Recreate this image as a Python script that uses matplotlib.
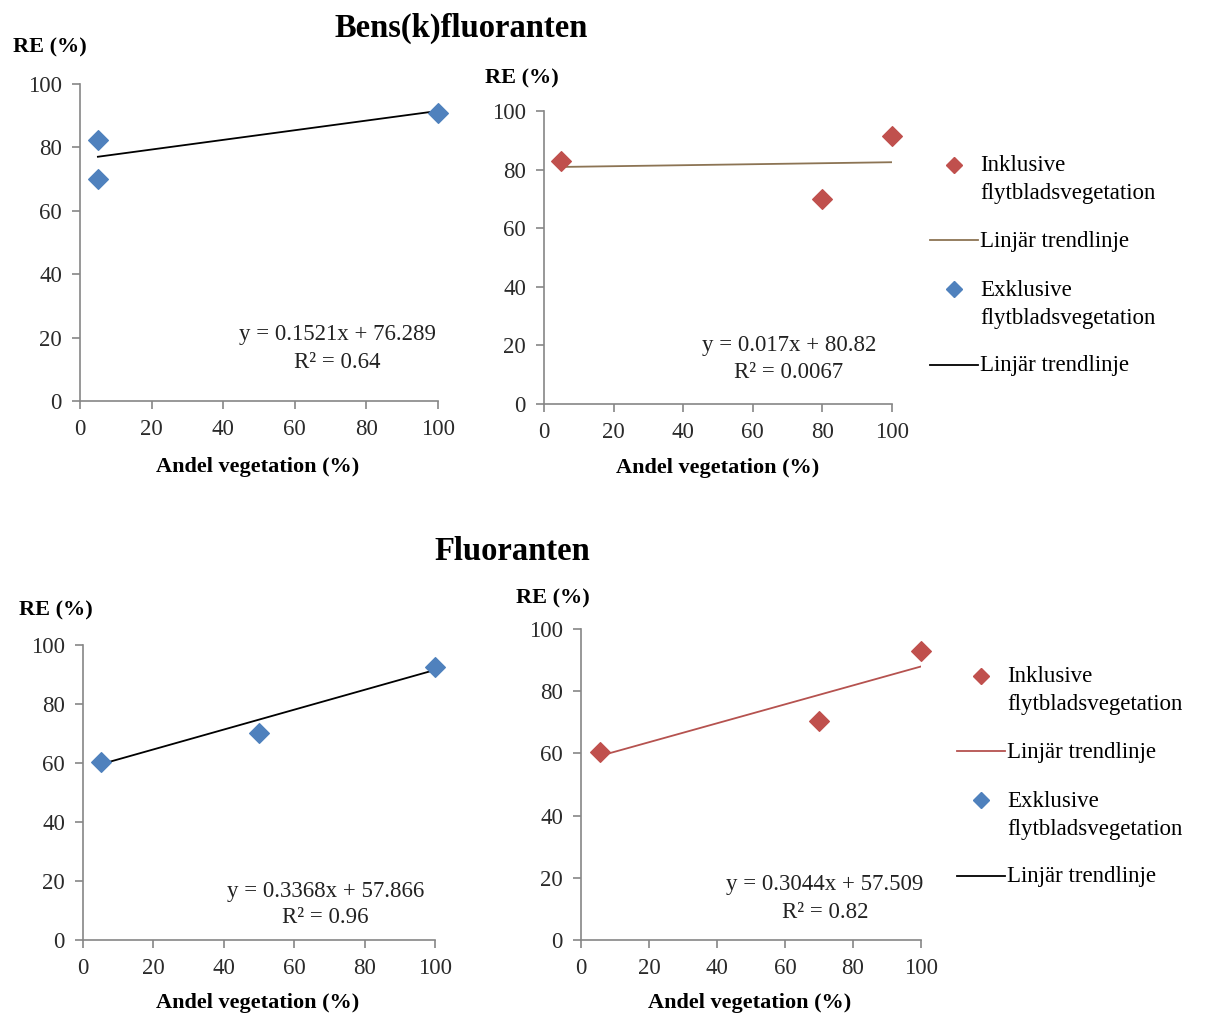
import numpy as np
import matplotlib
matplotlib.use('Agg')
import matplotlib.pyplot as plt
from matplotlib.lines import Line2D

plt.rcParams['font.family'] = ['Liberation Serif', 'DejaVu Serif']

W, H = 1212, 1014

# Bens(k)fluoranten
bk_excl_x = [5, 5, 100]
bk_excl_y = [82.3, 69.9, 90.8]
bk_excl_fit = (0.1521, 76.289, 0.64)

bk_incl_x = [5, 80, 100]
bk_incl_y = [82.8, 70.0, 91.4]
bk_incl_fit = (0.017, 80.82, 0.0067)

# Fluoranten
fl_excl_x = [5, 50, 100]
fl_excl_y = [60.4, 70.1, 92.4]
fl_excl_fit = (0.3368, 57.866, 0.96)

fl_incl_x = [5.5, 70, 100]
fl_incl_y = [60.6, 70.5, 93.0]
fl_incl_fit = (0.3044, 57.509, 0.82)

ticks = [0, 20, 40, 60, 80, 100]

blue = '#4f81bd'
red = '#c0504d'
brown = '#8c7454'
trend_red = '#b5524f'
axis_grey = '#868686'

legend_labels = ['Inklusive\nflytbladsvegetation', 'Linjär trendlinje',
                 'Exklusive\nflytbladsvegetation', 'Linjär trendlinje']


def px_axes(left, right, top, bottom):
    return fig.add_axes([left / W, (H - bottom) / H, (right - left) / W, (bottom - top) / H])


def fx(x):
    return x / W


def fy(y):
    return (H - y) / H


def scatter_panel(ax, x, y, fit, color, line_color, eq_pos):
    slope, icpt, r2 = fit
    ax.scatter(x, y, marker='D', s=100, color=color, zorder=3, clip_on=False)
    xs = np.array([min(x), max(x)])
    ax.plot(xs, slope * xs + icpt, color=line_color, lw=1.3, zorder=2)
    ax.set_xlim(0, 100)
    ax.set_ylim(0, 100)
    ax.set_xticks(ticks)
    ax.set_yticks(ticks)
    for s in ['top', 'right']:
        ax.spines[s].set_visible(False)
    for s in ['left', 'bottom']:
        ax.spines[s].set_color(axis_grey)
        ax.spines[s].set_linewidth(1.2)
    ax.tick_params(direction='out', length=6, width=1.2, color=axis_grey,
                   labelsize=16.5, labelcolor='#2a2a2a', pad=7)
    ex, ey = eq_pos
    ax.text(ex, ey, 'y = {}x + {}'.format(slope, icpt), transform=ax.transAxes,
            ha='center', va='center', fontsize=16.5, color='#222222')
    ax.text(ex, ey - 0.09, 'R² = {}'.format(r2), transform=ax.transAxes,
            ha='center', va='center', fontsize=16.5, color='#222222')


def add_legend(ax, line_color, x0, y0):
    handles = [
        Line2D([], [], marker='D', ls='none', color=red, markersize=8.5),
        Line2D([], [], color=line_color, lw=1.3),
        Line2D([], [], marker='D', ls='none', color=blue, markersize=8.5),
        Line2D([], [], color='black', lw=1.3),
    ]
    leg = ax.legend(handles, legend_labels, loc='upper left', bbox_to_anchor=(fx(x0), fy(y0)),
                    bbox_transform=fig.transFigure, frameon=False, fontsize=16.5,
                    handlelength=2.1, handleheight=1.15, handletextpad=0.1,
                    labelspacing=1.15, borderpad=0, borderaxespad=0)
    for t in leg.get_texts():
        t.set_linespacing(1.45)
    # put each symbol level with the first line of its label
    for column in leg._legend_handle_box.get_children():
        for item in column.get_children():
            item.align = 'top'


fig = plt.figure(figsize=(W / 100, H / 100), dpi=100)

ax1 = px_axes(80, 438, 84, 401)
scatter_panel(ax1, bk_excl_x, bk_excl_y, bk_excl_fit, blue, 'black', (0.718, 0.211))

ax2 = px_axes(544, 892, 111, 404)
scatter_panel(ax2, bk_incl_x, bk_incl_y, bk_incl_fit, red, brown, (0.704, 0.198))
add_legend(ax2, brown, 930, 155)

ax3 = px_axes(83, 435, 645, 940)
scatter_panel(ax3, fl_excl_x, fl_excl_y, fl_excl_fit, blue, 'black', (0.688, 0.166))

ax4 = px_axes(581, 921, 629, 940)
scatter_panel(ax4, fl_incl_x, fl_incl_y, fl_incl_fit, red, trend_red, (0.718, 0.180))
add_legend(ax4, trend_red, 957, 666)

# titles and axis captions
fig.text(fx(461), fy(28), 'Bens(k)fluoranten', ha='center', va='center',
         fontsize=23.5, fontweight='bold')
fig.text(fx(512), fy(551), 'Fluoranten', ha='center', va='center',
         fontsize=23.5, fontweight='bold')

for (x, y) in [(50, 47), (522, 78), (56, 610), (553, 598)]:
    fig.text(fx(x), fy(y), 'RE (%)', ha='center', va='center',
             fontsize=16, fontweight='bold')

for (x, y) in [(258, 467), (718, 468), (258, 1003), (750, 1003)]:
    fig.text(fx(x), fy(y), 'Andel vegetation (%)', ha='center', va='center',
             fontsize=16, fontweight='bold')

fig.savefig('out.png', dpi=100, facecolor='white')
